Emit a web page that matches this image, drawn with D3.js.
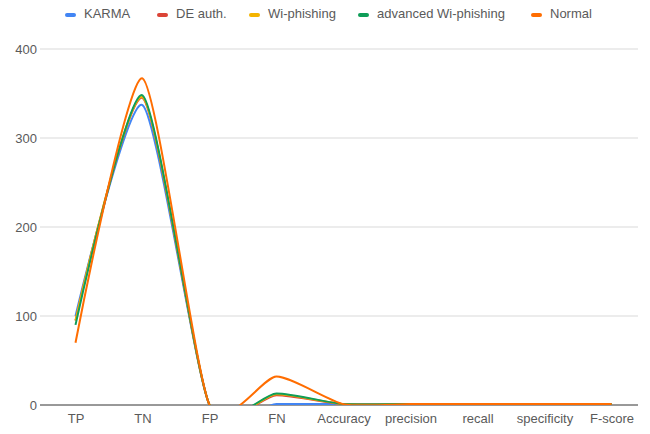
<!DOCTYPE html>
<html>
<head>
<meta charset="utf-8">
<script src="https://cdn.jsdelivr.net/npm/d3@7"></script>
<style>
  body { margin: 0; background: #fff; }
  text { font-family: "Liberation Sans", Arial, sans-serif; }
</style>
</head>
<body>
<div id="container"></div>
<script>
/* DATA */
const categories = ["TP", "TN", "FP", "FN", "Accuracy", "precision", "recall", "specificity", "F-score"];
const karma = [100, 337, 0, 1, 1, 1, 1, 1, 1];
const deAuth = [95, 345, 0, 11, 1, 1, 1, 1, 1];
const wiPhishing = [95, 346, 0, 12, 1, 1, 1, 1, 1];
const advWiPhishing = [90, 348, 0, 13, 1, 1, 1, 1, 1];
const normal = [70, 367, 0, 32, 1, 1, 1, 1, 1];
const yTicks = [0, 100, 200, 300, 400];

const series = [
  {name: "KARMA", color: "#4285F4", values: karma},
  {name: "DE auth.", color: "#DB4437", values: deAuth},
  {name: "Wi-phishing", color: "#F4B400", values: wiPhishing},
  {name: "advanced Wi-phishing", color: "#0F9D58", values: advWiPhishing},
  {name: "Normal", color: "#FF6D01", values: normal}
];

/* CONSTANTS */
const width = 650, height = 434;
const plotLeft = 42, plotRight = 645, plotTop = 49, plotBottom = 405;
const gridLeft = 40, gridRight = 638;
const textColor = "#5a5a5a";

const svg = d3.select("#container")
  .append("svg")
  .attr("width", width)
  .attr("height", height);

/* SCALES */
const xScale = d3.scalePoint()
  .domain(categories)
  .range([plotLeft, plotRight])
  .padding(0.5);

const yScale = d3.scaleLinear()
  .domain([0, 400])
  .range([plotBottom, plotTop]);

// gridlines
svg.append("g")
  .selectAll("line")
  .data(yTicks)
  .join("line")
  .attr("x1", gridLeft)
  .attr("x2", gridRight)
  .attr("y1", d => yScale(d))
  .attr("y2", d => yScale(d))
  .attr("stroke", d => d === 0 ? "#333" : "#d9d9d9")
  .attr("stroke-width", 1);

// y axis labels
const yAxis = d3.axisLeft(yScale).tickValues(yTicks).tickSize(0).tickPadding(0);
svg.append("g")
  .attr("transform", `translate(37, 0)`)
  .call(yAxis)
  .call(g => g.select(".domain").remove())
  .call(g => g.selectAll("text")
    .attr("fill", textColor)
    .style("font-size", "13px"));

// x axis labels
const xAxis = d3.axisBottom(xScale).tickSize(0).tickPadding(0);
svg.append("g")
  .attr("transform", `translate(0, ${plotBottom + 9})`)
  .call(xAxis)
  .call(g => g.select(".domain").remove())
  .call(g => g.selectAll("text")
    .attr("fill", textColor)
    .style("font-size", "13px"));

// clip
svg.append("clipPath")
  .attr("id", "plot")
  .append("rect")
  .attr("x", gridLeft)
  .attr("y", 0)
  .attr("width", plotRight - gridLeft)
  .attr("height", plotBottom);

const line = d3.line()
  .x((d, i) => xScale(categories[i]))
  .y(d => yScale(d))
  .curve(d3.curveCardinal.tension(0.35));

svg.append("g")
  .attr("clip-path", "url(#plot)")
  .selectAll("path")
  .data(series)
  .join("path")
  .attr("d", d => line(d.values))
  .attr("fill", "none")
  .attr("stroke", d => d.color)
  .attr("stroke-width", 2);

/* LEGEND */
const legendX = [65, 157, 249, 358, 531];
const legend = svg.append("g");
series.forEach((d, i) => {
  legend.append("rect")
    .attr("x", legendX[i])
    .attr("y", 13)
    .attr("width", 11)
    .attr("height", 4)
    .attr("rx", 2)
    .attr("fill", d.color);
  legend.append("text")
    .attr("x", legendX[i] + 19)
    .attr("y", 15)
    .attr("dominant-baseline", "middle")
    .attr("fill", textColor)
    .style("font-size", "13px")
    .text(d.name);
});
</script>
</body>
</html>
